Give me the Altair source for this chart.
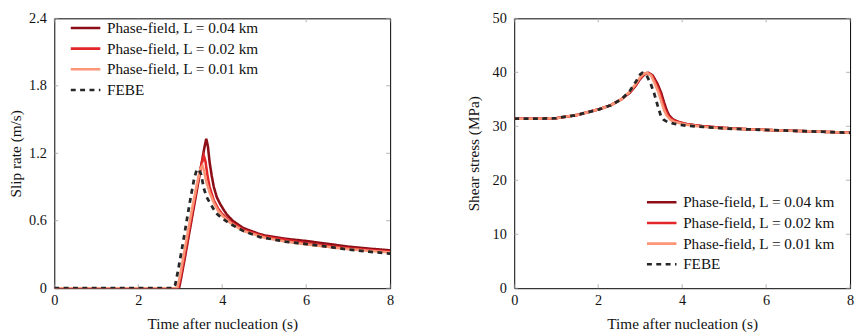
import altair as alt
import pandas as pd

# ---------------- data ----------------
series_names = ["Phase-field, L = 0.04 km", "Phase-field, L = 0.02 km",
                "Phase-field, L = 0.01 km", "FEBE"]
series_colors = ["#8c0e17", "#e3262a", "#fc9677", "#262626"]
series_dash = [[1, 0], [1, 0], [1, 0], [5, 4.5]]

# Slip rate (m/s) vs time (s)
slip_t_L04 = [0, 2.93, 2.97, 3.0, 3.1, 3.2, 3.3, 3.4, 3.5, 3.57, 3.62, 3.66, 3.70, 3.75,
              3.80, 3.87, 3.95, 4.03, 4.11, 4.25, 4.5, 4.9, 5.0, 5.5, 6.0, 6.5, 7.0, 7.5, 8.0]
slip_v_L04 = [0, 0, 0.0, 0.05, 0.25, 0.46, 0.67, 0.88, 1.09, 1.24, 1.33, 1.26, 1.12, 1.00,
              0.90, 0.81, 0.75, 0.70, 0.655, 0.60, 0.535, 0.48, 0.47, 0.44, 0.42, 0.395, 0.37, 0.352, 0.337]

slip_t_L02 = [0, 2.91, 2.95, 3.0, 3.1, 3.2, 3.3, 3.4, 3.5, 3.56, 3.60, 3.65, 3.70, 3.80,
              3.90, 4.0, 4.2, 4.5, 5.0, 5.5, 6.0, 6.5, 7.0, 7.5, 8.0]
slip_v_L02 = [0, 0, 0.0, 0.08, 0.28, 0.49, 0.70, 0.91, 1.09, 1.18, 1.13, 1.00, 0.90, 0.78,
              0.71, 0.66, 0.59, 0.52, 0.46, 0.43, 0.40, 0.378, 0.355, 0.34, 0.325]

slip_t_L01 = [0, 2.89, 2.93, 3.0, 3.1, 3.2, 3.3, 3.4, 3.48, 3.53, 3.57, 3.62, 3.70, 3.80,
              3.90, 4.0, 4.2, 4.5, 5.0, 5.5, 6.0, 6.5, 7.0, 7.5, 8.0]
slip_v_L01 = [0, 0, 0.0, 0.12, 0.33, 0.54, 0.74, 0.93, 1.06, 1.09, 1.04, 0.95, 0.85, 0.76,
              0.69, 0.645, 0.58, 0.51, 0.45, 0.415, 0.39, 0.368, 0.348, 0.332, 0.318]

slip_t_febe = [0, 2.82, 2.88, 2.95, 3.05, 3.15, 3.25, 3.33, 3.39, 3.44, 3.50, 3.56, 3.63,
               3.72, 3.80, 3.88, 4.0, 4.2, 4.5, 4.9, 5.5, 6.0, 6.5, 7.0, 7.5, 8.0]
slip_v_febe = [0, 0, 0.03, 0.16, 0.37, 0.59, 0.81, 0.97, 1.05, 1.06, 1.01, 0.89, 0.81,
               0.75, 0.70, 0.66, 0.62, 0.57, 0.51, 0.455, 0.415, 0.393, 0.37, 0.345, 0.325, 0.308]

# Shear stress (MPa) vs time (s)
tau_t_L04 = [0, 0.5, 1.0, 1.5, 2.0, 2.3, 2.55, 2.75, 2.9, 3.0, 3.1, 3.2, 3.3, 3.41, 3.5,
             3.57, 3.63, 3.69, 3.78, 3.88, 4.1, 4.5, 5.0, 5.7, 6.5, 7.3, 8.0]
tau_v_L04 = [31.4, 31.4, 31.5, 32.1, 33.1, 33.9, 35.0, 36.2, 37.6, 38.8, 39.6, 39.9, 39.4,
             37.9, 36.2, 34.4, 33.0, 32.0, 31.3, 30.9, 30.4, 30.0, 29.7, 29.4, 29.2, 29.0, 28.8]

tau_t_L02 = [0, 0.5, 1.0, 1.5, 2.0, 2.3, 2.55, 2.75, 2.9, 3.0, 3.1, 3.18, 3.28, 3.38, 3.47,
             3.54, 3.60, 3.66, 3.75, 3.85, 4.1, 4.5, 5.0, 5.7, 6.5, 7.3, 8.0]
tau_v_L02 = [31.4, 31.4, 31.5, 32.1, 33.1, 33.9, 35.0, 36.3, 37.7, 38.9, 39.7, 39.9, 39.4,
             37.9, 36.2, 34.4, 33.0, 32.0, 31.3, 30.9, 30.4, 30.0, 29.7, 29.4, 29.2, 29.0, 28.8]

tau_t_L01 = [0, 0.5, 1.0, 1.5, 2.0, 2.3, 2.55, 2.75, 2.9, 3.0, 3.08, 3.16, 3.26, 3.35, 3.44,
             3.51, 3.57, 3.63, 3.72, 3.82, 4.1, 4.5, 5.0, 5.7, 6.5, 7.3, 8.0]
tau_v_L01 = [31.4, 31.4, 31.5, 32.1, 33.1, 33.9, 35.0, 36.4, 37.9, 39.1, 39.7, 39.9, 39.4,
             37.9, 36.2, 34.4, 33.0, 32.0, 31.2, 30.8, 30.3, 29.9, 29.6, 29.4, 29.2, 29.0, 28.8]

tau_t_febe = [0, 0.5, 1.0, 1.5, 2.0, 2.3, 2.55, 2.75, 2.9, 3.0, 3.05, 3.15, 3.25, 3.33,
              3.41, 3.49, 3.56, 3.65, 3.8, 4.1, 4.5, 5.0, 5.7, 6.5, 7.3, 8.0]
tau_v_febe = [31.4, 31.4, 31.5, 32.1, 33.1, 33.9, 35.0, 36.5, 38.3, 39.6, 39.9, 39.5, 37.9,
              36.2, 34.0, 32.0, 31.2, 30.8, 30.5, 30.1, 29.9, 29.6, 29.4, 29.2, 29.0, 28.8]

x_ticks = [0, 2, 4, 6, 8]
slip_ticks = [0, 0.6, 1.2, 1.8, 2.4]
tau_ticks = [0, 10, 20, 30, 40, 50]

# ---------------- build tables ----------------
def table(pairs):
    rows = []
    for name, (ts, vs) in zip(series_names, pairs):
        for i, (t, v) in enumerate(zip(ts, vs)):
            rows.append({"t": t, "v": v, "series": name, "i": i})
    return pd.DataFrame(rows)

slip_df = table([(slip_t_L04, slip_v_L04), (slip_t_L02, slip_v_L02),
                 (slip_t_L01, slip_v_L01), (slip_t_febe, slip_v_febe)])
tau_df = table([(tau_t_L04, tau_v_L04), (tau_t_L02, tau_v_L02),
                (tau_t_L01, tau_v_L01), (tau_t_febe, tau_v_febe)])

W, H = 341, 274
FONT = "Liberation Serif"
TICK_COLOR = "#a0a0a0"
TL = 4


def panel(df, ymax, yticks, ytitle, legend_x, legend_y, ylabel_expr, ytitle_pad):
    xscale = alt.Scale(domain=[0, 8], nice=False, zero=False)
    yscale = alt.Scale(domain=[0, ymax], nice=False, zero=False)
    legend = alt.Legend(
        title=None, orient="none", legendX=legend_x, legendY=legend_y,
        symbolType="M-3,0H3", symbolSize=100, symbolStrokeWidth=2.6,
        labelOffset=14, labelFont=FONT, labelFontSize=15.5, labelColor="#111",
        rowPadding=4, padding=0, fillColor="white",
    )
    color = alt.Color("series:N", scale=alt.Scale(domain=series_names, range=series_colors),
                      legend=legend)
    dash = alt.StrokeDash("series:N", scale=alt.Scale(domain=series_names, range=series_dash),
                          legend=legend)
    x = alt.X("t:Q", scale=xscale,
              axis=alt.Axis(values=x_ticks, title="Time after nucleation (s)", format="d"))
    y = alt.Y("v:Q", scale=yscale,
              axis=alt.Axis(values=yticks, title=ytitle, labelExpr=ylabel_expr,
                            titlePadding=ytitle_pad))

    phase = alt.Chart(df).transform_filter(alt.datum.series != "FEBE").mark_line(
        strokeWidth=2.6, clip=True).encode(x=x, y=y, color=color, strokeDash=dash,
                                             order="i:Q")
    febe = alt.Chart(df).transform_filter(alt.datum.series == "FEBE").mark_line(
        strokeWidth=2.8, clip=True).encode(x=x, y=y, color=color, strokeDash=dash,
                                             order="i:Q")

    xt = pd.DataFrame({"tx": x_ticks})
    yt = pd.DataFrame({"ty": yticks})
    rule = dict(color=TICK_COLOR, strokeWidth=0.8)
    xs = alt.X("tx:Q", scale=xscale)
    ys = alt.Y("ty:Q", scale=yscale)
    t_bottom = alt.Chart(xt).mark_rule(**rule).encode(x=xs, y=alt.value(H), y2=alt.value(H - TL))
    t_top = alt.Chart(xt).mark_rule(**rule).encode(x=xs, y=alt.value(0), y2=alt.value(TL))
    t_left = alt.Chart(yt).mark_rule(**rule).encode(y=ys, x=alt.value(0), x2=alt.value(TL))
    t_right = alt.Chart(yt).mark_rule(**rule).encode(y=ys, x=alt.value(W), x2=alt.value(W - TL))

    return alt.layer(t_bottom, t_top, t_left, t_right, phase, febe).properties(width=W, height=H)


left = panel(slip_df, 2.4, slip_ticks, "Slip rate (m/s)", 24, 2,
             "datum.value == 0 ? '0' : format(datum.value, '.1f')", 5)
right = panel(tau_df, 50, tau_ticks, "Shear stress (MPa)", 142, 179,
              "format(datum.value, 'd')", 11)

chart = alt.hconcat(left, right, spacing=72).resolve_scale(
    color="independent", strokeDash="independent"
).resolve_legend(color="independent", strokeDash="independent").properties(
    padding={"left": 0, "top": -1, "right": 0, "bottom": 0}
).configure_view(stroke="#000", strokeWidth=1).configure_axis(
    ticks=False, domain=False, grid=False,
    labelFont=FONT, labelFontSize=14.5, labelColor="#111", labelPadding=6,
    titleFont=FONT, titleFontSize=15.5, titleFontWeight="normal", titleColor="#111",
    titlePadding=9,
).configure_axisY(labelPadding=8).configure_axisX(labelFlush=False)

chart.save("out.html", embed_options={"renderer": "svg", "actions": False})
